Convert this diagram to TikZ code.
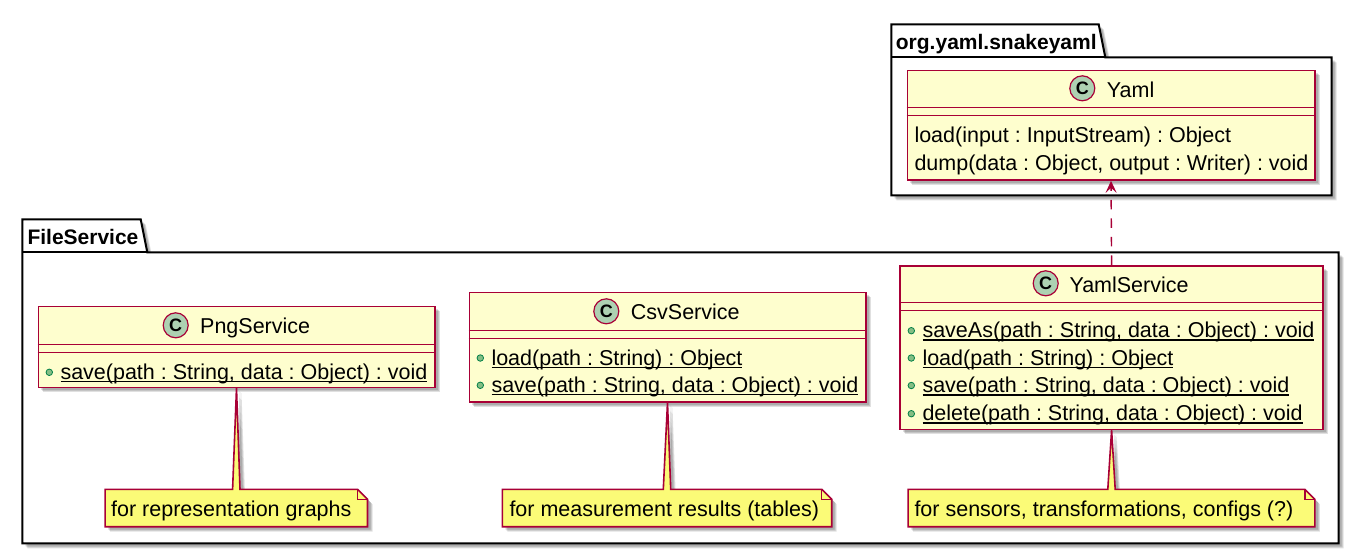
\documentclass[tikz,border=0pt]{standalone}
\usepackage{fontspec}
\setmainfont{Liberation Sans}
\usepackage{tikz}
\usetikzlibrary{positioning}
\usetikzlibrary{arrows.meta}
\usetikzlibrary{shadows}
\definecolor{umlred}{HTML}{A80036}
\definecolor{umlfill}{HTML}{FEFECE}
\definecolor{umlnote}{HTML}{FBFB77}
\definecolor{umlcircle}{HTML}{ADD1B2}
\definecolor{umlbullet}{HTML}{84BE84}
\definecolor{umlbulletline}{HTML}{038048}
\frenchspacing
\newcommand{\ulined}[1]{\setbox0\hbox{#1}\rlap{\rule[-3pt]{\wd0}{1.4pt}}\box0}
\tikzset{
softshadow/.style={
general shadow={shadow xshift=3pt,shadow yshift=-3pt,fill=black,opacity=.12},
general shadow={shadow xshift=4pt,shadow yshift=-4pt,fill=black,opacity=.12},
general shadow={shadow xshift=5pt,shadow yshift=-5pt,fill=black,opacity=.12}},
packagebox/.style={draw=black,line width=2pt,fill=white,softshadow},
classbox/.style={rectangle,draw=umlred,line width=1.6pt,fill=umlfill,inner sep=0pt,softshadow},
classline/.style={draw=umlred,line width=1.6pt},
circlemark/.style={circle,draw=umlred,line width=1.2pt,fill=umlcircle,minimum size=25pt,inner sep=0pt,font=\fontsize{18}{18}\selectfont\bfseries},
bulletmark/.style={circle,draw=umlbulletline,line width=.8pt,fill=umlbullet,minimum size=6.5pt,inner sep=0pt},
txt/.style={anchor=base west,inner sep=0pt,font=\fontsize{21.5}{24}\selectfont},
title/.style={anchor=base west,inner sep=0pt,font=\fontsize{21}{24}\selectfont\bfseries},
notebox/.style={rectangle,inner sep=0pt,minimum height=37pt},
noteshape/.style={draw=umlred,line width=1.6pt,fill=umlnote,softshadow},
}
\begin{document}
\begin{tikzpicture}[x=1pt,y=-1pt]
\useasboundingbox (0,0) rectangle (1359,554);
\draw[packagebox] (891.3,57.3) -- (891.3,24.3) -- (1098.7,24.3) -- (1105.3,57.3) -- (1331.7,57.3) -- (1331.7,195.3) -- (891.3,195.3) -- cycle;
\draw[black,line width=2pt] (891.3,57.3) -- (1105.3,57.3);
\draw[packagebox] (22.3,252.3) -- (22.3,219.3) -- (140.7,219.3) -- (147.3,252.3) -- (1338.7,252.3) -- (1338.7,543.3) -- (22.3,543.3) -- cycle;
\draw[black,line width=2pt] (22.3,252.3) -- (147.3,252.3);
\node[title] (snakeyaml) at (895.7,49.3) {org.yaml.snakeyaml};
\node[title] (fileservice) at (27.3,244) {FileService};
\node[classbox,minimum width=407.4pt,minimum height=109.7pt] (yaml) at (1111,125.15) {};
\node[classbox,minimum width=422.7pt,minimum height=163.6pt] (yamlsvc) at (1111.6,347.5) {};
\node[classbox,minimum width=396.4pt,minimum height=109.4pt] (csv) at (667.5,347) {};
\node[classbox,minimum width=396.4pt,minimum height=81pt] (png) at (236.5,346.8) {};
\foreach \cls/\ya/\yb in {yaml/107.3/115.3,yamlsvc/302.3/310.3,csv/330.3/338.3,png/344.3/352.3} {
\draw[classline] (\cls.west |- 0,\ya) -- (\cls.east |- 0,\ya);
\draw[classline] (\cls.west |- 0,\yb) -- (\cls.east |- 0,\yb);
}
\foreach \cls/\cx/\cy/\tx/\ty/\lbl in {yaml/1082.3/88.3/1106.7/97.7/Yaml,yamlsvc/1045.7/283.3/1069.3/292.3/YamlService,csv/606.3/311.3/630.7/319.7/CsvService,png/175.7/325.3/200/333.7/PngService} {
\node[circlemark] (\cls mark) at (\cx,\cy) {C};
\node[txt] (\cls name) at (\tx,\ty) {\lbl};
}
\node[txt] (yamlload) at (914.3,142.7) {load(input : InputStream) : Object};
\node[txt] (yamldump) at (914.3,170) {dump(data : Object, output : Writer) : void};
\foreach \nm/\xx/\yy/\lbl in {
svcsaveas/922.3/337.7/{saveAs(path : String, data : Object) : void},
svcload/922.3/365/{load(path : String) : Object},
svcsave/922.3/392.5/{save(path : String, data : Object) : void},
svcdelete/922.3/420.7/{delete(path : String, data : Object) : void},
csvload/491.3/365/{load(path : String) : Object},
csvsave/491.3/392.3/{save(path : String, data : Object) : void},
pngsave/60.3/379.3/{save(path : String, data : Object) : void}} {
\node[txt] (\nm) at (\xx,\yy) {\ulined{\lbl}};
\node[bulletmark] (\nm bullet) at ([xshift=-11pt,yshift=7pt]\nm.base west) {};
}
\node[notebox,minimum width=262pt] (pngnote) at (236.3,508) {};
\node[notebox,minimum width=329pt] (csvnote) at (667,508) {};
\node[notebox,minimum width=406.4pt] (svcnote) at (1111.5,508) {};
\foreach \cls/\nt in {png/pngnote,csv/csvnote,yamlsvc/svcnote} {
\draw[noteshape] (\nt.north west) -- ([xshift=-3.7pt]\nt.north) -- (\cls.south) -- ([xshift=3.7pt]\nt.north) -- ([xshift=-10pt]\nt.north east) -- ([yshift=-10pt]\nt.north east) -- (\nt.south east) -- (\nt.south west) -- cycle;
\draw[draw=umlred,line width=1.2pt] ([xshift=-10pt]\nt.north east) -- ([xshift=-10pt,yshift=-10pt]\nt.north east) -- ([yshift=-10pt]\nt.north east);
}
\node[txt] (pngtext) at (111,516.7) {for representation graphs};
\node[txt] (csvtext) at (509.3,516.7) {for measurement results (tables)};
\node[txt] (svctext) at (914.3,516.7) {for sensors, transformations, configs (?)};
\draw[umlred,line width=1.4pt,dash pattern=on 9.5pt off 9pt,-{Stealth[length=12pt,width=11pt,inset=5pt]}] (yamlsvc.north) -- (yaml.south);
\end{tikzpicture}
\end{document}
